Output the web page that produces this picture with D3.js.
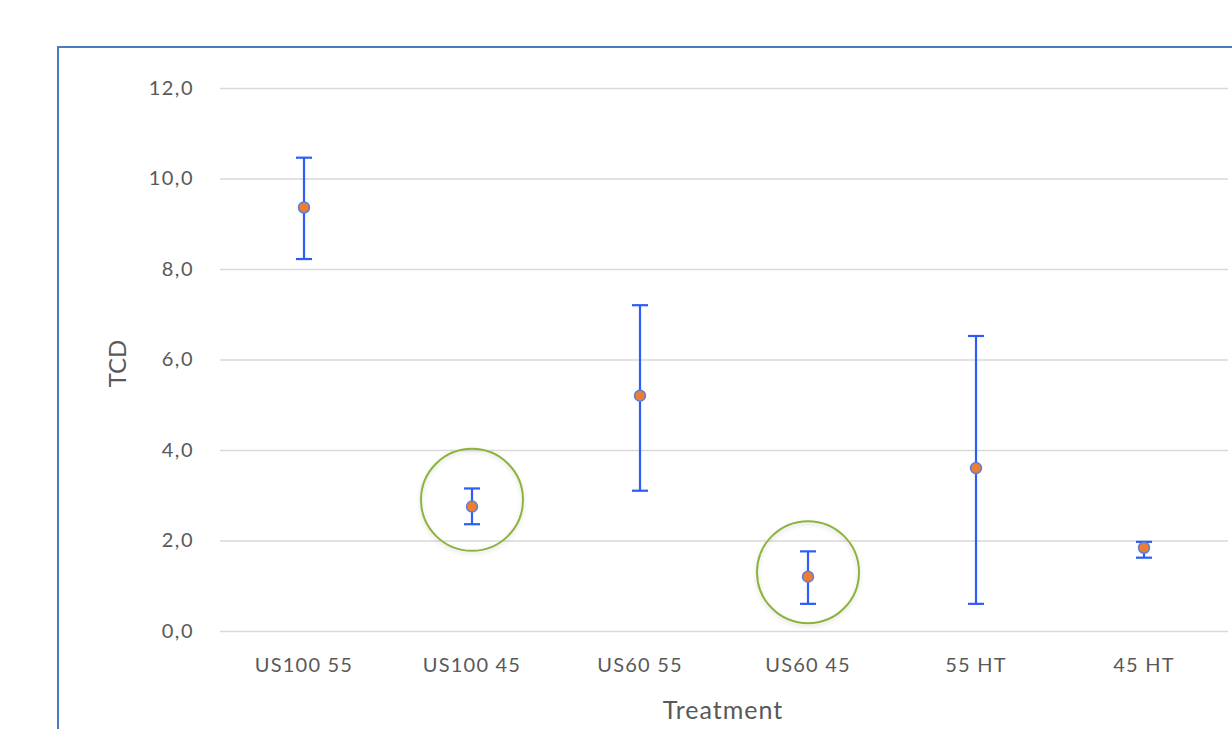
<html>

<head>
    <script src="https://d3js.org/d3.v7.min.js"></script>
</head>

<body style="margin:0;background:white">
    <svg></svg>
    <script>
        // data
        const categories = ["US100 55", "US100 45", "US60 55", "US60 45", "55 HT", "45 HT"]
        const means = [9.36, 2.75, 5.2, 1.2, 3.6, 1.84]
        const upper = [10.46, 3.15, 7.2, 1.76, 6.52, 1.97]
        const lower = [8.22, 2.36, 3.1, 0.6, 0.6, 1.62]
        const yTickValues = [0, 2, 4, 6, 8, 10, 12]
        // green highlight rings: category + centre value
        const highlightCats = ["US100 45", "US60 45"]
        const highlightVals = [2.9, 1.3]

        const width = 1232
        const height = 729
        const plotLeft = 220
        const plotRight = 1228
        const plotTop = 88
        const plotBottom = 631
        const font = "Lato, 'Noto Sans', sans-serif"

        const svg = d3.select("svg")
            .attr("width", width)
            .attr("height", height)
            .attr("viewBox", [0, 0, width, height])
            .style("display", "block")

        // chart frame
        svg.append("rect")
            .attr("x", 58).attr("y", 47)
            .attr("width", 1200).attr("height", 720)
            .attr("fill", "none")
            .attr("stroke", "#4a7ebb")
            .attr("stroke-width", 2)

        const xScale = d3.scaleBand().domain(categories).range([plotLeft, plotRight])
        const yScale = d3.scaleLinear([0, 12], [plotBottom, plotTop])
        const cx = c => xScale(c) + xScale.bandwidth() / 2

        // y axis with gridlines
        const yAxis = d3.axisLeft(yScale)
            .tickValues(yTickValues)
            .tickFormat(t => t.toFixed(1).replace(".", ","))
            .tickSize(0)
            .tickPadding(26)
        svg.append("g")
            .attr("transform", `translate(${plotLeft},0)`)
            .call(yAxis)
            .call(g => g.select(".domain").remove())
            .call(g => g.selectAll(".tick line").clone()
                .attr("x2", plotRight - plotLeft)
                .attr("stroke", "#d9d9d9")
                .attr("stroke-width", 1.5))
            .call(g => g.selectAll(".tick text")
                .attr("fill", "#595959")
                .style("font", `20px ${font}`)
                .style("letter-spacing", "1.5px"))

        // x axis labels
        const xAxis = d3.axisBottom(xScale).tickSize(0).tickPadding(27)
        svg.append("g")
            .attr("transform", `translate(0,${plotBottom})`)
            .call(xAxis)
            .call(g => g.select(".domain").remove())
            .call(g => g.selectAll(".tick text")
                .attr("fill", "#595959")
                .style("font", `20px ${font}`)
                .style("letter-spacing", "1.2px"))

        // axis titles
        svg.append("text")
            .attr("x", (plotLeft + plotRight) / 2 - 1)
            .attr("y", 719)
            .attr("text-anchor", "middle")
            .attr("fill", "#595959")
            .style("font", `25px ${font}`)
            .style("letter-spacing", "1px")
            .text("Treatment")
        svg.append("text")
            .attr("transform", `translate(126,${(plotTop + plotBottom) / 2 + 4}) rotate(-90)`)
            .attr("text-anchor", "middle")
            .attr("fill", "#595959")
            .style("font", `24px ${font}`)
            .text("TCD")

        // error bars
        const I = d3.range(categories.length)
        const bars = svg.append("g")
            .attr("stroke", "#2d5cf6")
            .attr("stroke-width", 2.2)
        bars.selectAll(".v").data(I).join("line")
            .attr("x1", i => cx(categories[i])).attr("x2", i => cx(categories[i]))
            .attr("y1", i => yScale(upper[i])).attr("y2", i => yScale(lower[i]))
        bars.selectAll(".capHi").data(I).join("line")
            .attr("x1", i => cx(categories[i]) - 8).attr("x2", i => cx(categories[i]) + 8)
            .attr("y1", i => yScale(upper[i])).attr("y2", i => yScale(upper[i]))
        bars.selectAll(".capLo").data(I).join("line")
            .attr("x1", i => cx(categories[i]) - 8).attr("x2", i => cx(categories[i]) + 8)
            .attr("y1", i => yScale(lower[i])).attr("y2", i => yScale(lower[i]))

        // mean markers
        svg.append("g").selectAll("circle").data(I).join("circle")
            .attr("cx", i => cx(categories[i]))
            .attr("cy", i => yScale(means[i]))
            .attr("r", 5.5)
            .attr("fill", "#ed7d31")
            .attr("stroke", "#5b7fd6")
            .attr("stroke-width", 1.5)

        // highlight rings
        const defs = svg.append("defs")
        defs.append("filter").attr("id", "shadow")
            .append("feDropShadow")
            .attr("dx", 0).attr("dy", 2).attr("stdDeviation", 2)
            .attr("flood-color", "#000").attr("flood-opacity", 0.15)
        svg.append("g").selectAll("circle").data(highlightCats).join("circle")
            .attr("cx", c => cx(c))
            .attr("cy", (c, i) => yScale(highlightVals[i]))
            .attr("r", 51)
            .attr("fill", "none")
            .attr("stroke", "#8cb33e")
            .attr("stroke-width", 2)
            .attr("filter", "url(#shadow)")
    </script>
</body>

</html>
